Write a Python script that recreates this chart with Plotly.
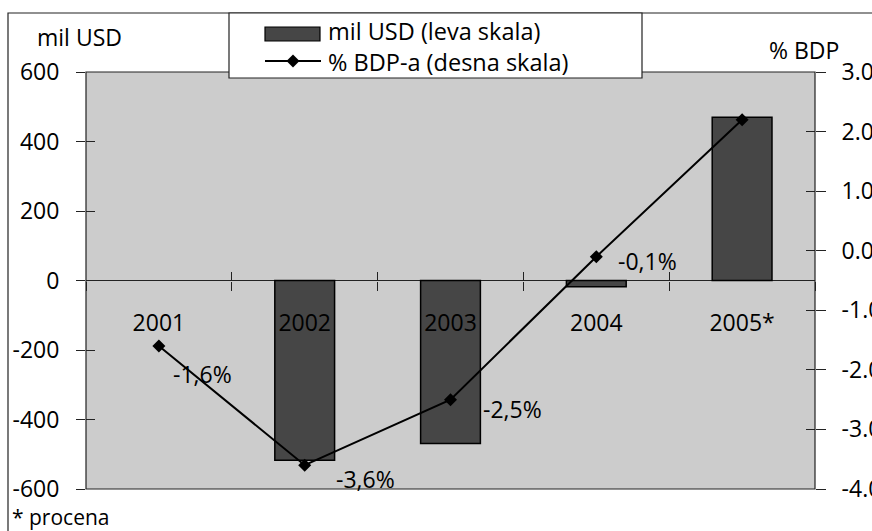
import plotly.graph_objects as go

# Current-account balance: millions of USD (bars, left scale) and % of GDP (line, right scale)
years = ["2001", "2002", "2003", "2004", "2005*"]
mil_usd = [None, -517, -469, -18, 470]
pct_bdp = [-1.6, -3.6, -2.5, -0.1, 2.2]
labelled = [True, True, True, True, False]
legend_names = ["mil USD (leva skala)", "% BDP-a (desna skala)"]

left_ticks = [-600, -400, -200, 0, 200, 400, 600]
right_ticks = [-4.0, -3.0, -2.0, -1.0, 0.0, 1.0, 2.0, 3.0]

FONT = "Open Sans"
FS = 23
FS_LEG = 23.5
BAR_FILL = "#464646"
PLOT_BG = "#cccccc"

W, H = 872, 531
ML, MR, MT, MB = 86, 57, 72, 42
PW, PH = W - ML - MR, H - MT - MB


def px(x):
    return (x - ML) / PW


def py(y):
    return (H - MB - y) / PH


def font(size=FS):
    return dict(family=FONT, size=size, color="black")


fig = go.Figure()

fig.add_trace(go.Bar(
    x=years, y=mil_usd, width=0.41,
    marker=dict(color=BAR_FILL, line=dict(color="black", width=1.5)),
    name=legend_names[0], yaxis="y", xaxis="x",
))

fig.add_trace(go.Scatter(
    x=years, y=pct_bdp, mode="lines+markers",
    line=dict(color="black", width=2),
    marker=dict(symbol="diamond", size=10, color="black"),
    name=legend_names[1], yaxis="y2", xaxis="x",
))

# value labels next to the % of GDP points (x given as category index)
offsets = [(44, -28), (61, -14), (62, -9), (51, -4)]
annotations = []
for i, (v, show) in enumerate(zip(pct_bdp, labelled)):
    if not show:
        continue
    dx, dy = offsets[i]
    annotations.append(dict(
        x=i, y=v, xref="x", yref="y2", showarrow=False,
        text=f"{v:.1f}".replace(".", ",") + "%",
        xshift=dx, yshift=dy, font=font(),
    ))

# axis titles, footnote and the legend's text block
annotations += [
    dict(x=px(35), y=py(37), xref="paper", yref="paper", xanchor="left", yanchor="middle",
         text="mil USD", showarrow=False, font=font(23)),
    dict(x=px(767), y=py(50), xref="paper", yref="paper", xanchor="left", yanchor="middle",
         text="% BDP", showarrow=False, font=font(23)),
    dict(x=px(10), y=py(517), xref="paper", yref="paper", xanchor="left", yanchor="middle",
         text="* procena", showarrow=False, font=font(21)),
    dict(x=px(327), y=py(47), xref="paper", yref="paper", xanchor="left", yanchor="middle",
         align="left", text="<br>".join(legend_names), showarrow=False,
         font=font(FS_LEG), borderpad=0),
]

shapes = [
    # outer chart frame
    dict(type="rect", xref="paper", yref="paper", x0=px(8), x1=px(900), y0=py(560), y1=py(13),
         line=dict(color="#222", width=1.2), fillcolor="rgba(0,0,0,0)", layer="below"),
    # plot area frame
    dict(type="rect", xref="paper", yref="paper", x0=0, x1=1, y0=0, y1=1,
         line=dict(color="#222", width=1.2), layer="above"),
    # legend box and its two symbols
    dict(type="rect", xref="paper", yref="paper", x0=px(229), x1=px(642), y0=py(78), y1=py(13),
         line=dict(color="#222", width=1.2), fillcolor="white", layer="above"),
    dict(type="rect", xref="paper", yref="paper", x0=px(265), x1=px(320), y0=py(41), y1=py(27),
         line=dict(color="black", width=1.2), fillcolor=BAR_FILL, layer="above"),
    dict(type="line", xref="paper", yref="paper", x0=px(265), x1=px(321), y0=py(61), y1=py(61),
         line=dict(color="black", width=2), layer="above"),
    dict(type="path", xref="paper", yref="paper", layer="above",
         path=(f"M {px(293)},{py(54.5)} L {px(299.5)},{py(61)} "
               f"L {px(293)},{py(67.5)} L {px(286.5)},{py(61)} Z"),
         fillcolor="black", line=dict(color="black", width=0)),
]

tick_common = dict(tickwidth=1.2, tickcolor="#222", showgrid=False, showline=False, automargin=False)

fig.update_layout(
    width=W, height=H,
    margin=dict(l=ML, r=MR, t=MT, b=MB, pad=0, autoexpand=False),
    paper_bgcolor="white", plot_bgcolor=PLOT_BG,
    showlegend=False, bargap=0.59,
    font=font(),
    xaxis=dict(
        type="category", categoryorder="array", categoryarray=years,
        range=[-0.5, 4.5], anchor="free", position=0.5, zeroline=False,
        ticks="outside", ticklen=9, tickson="boundaries",
        tickfont=font(), ticklabelstandoff=26, **tick_common,
    ),
    xaxis2=dict(
        overlaying="x", anchor="free", position=0.5, range=[-0.5, 4.5],
        tickmode="array", tickvals=[0.5, 1.5, 2.5, 3.5],
        ticks="inside", ticklen=9, showticklabels=False, zeroline=False, **tick_common,
    ),
    yaxis=dict(
        range=[-600, 600], tickmode="array", tickvals=left_ticks,
        ticktext=[str(v) for v in left_ticks],
        ticks="outside", ticklen=9,
        zeroline=True, zerolinecolor="#222", zerolinewidth=1.2,
        tickfont=font(), ticklabelstandoff=12, **tick_common,
    ),
    yaxis2=dict(
        range=[-4, 3], overlaying="y", side="right", tickmode="array",
        tickvals=right_ticks, ticktext=[f"{v:.1f}" for v in right_ticks],
        ticks="outside", ticklen=10, zeroline=False,
        tickfont=font(), ticklabelstandoff=11, **tick_common,
    ),
    yaxis3=dict(
        range=[-600, 600], overlaying="y", side="left", tickmode="array",
        tickvals=left_ticks, ticks="inside", ticklen=9,
        showticklabels=False, zeroline=False, **tick_common,
    ),
    yaxis4=dict(
        range=[-4, 3], overlaying="y", side="right", tickmode="array",
        tickvals=right_ticks, ticks="inside", ticklen=9,
        showticklabels=False, zeroline=False, **tick_common,
    ),
    annotations=annotations,
    shapes=shapes,
)

# empty traces so the inside-tick overlay axes are rendered
fig.add_trace(go.Scatter(x=[None], y=[None], xaxis="x2", yaxis="y3", showlegend=False, hoverinfo="skip"))
fig.add_trace(go.Scatter(x=[None], y=[None], xaxis="x2", yaxis="y4", showlegend=False, hoverinfo="skip"))

fig.write_html("out.html")
